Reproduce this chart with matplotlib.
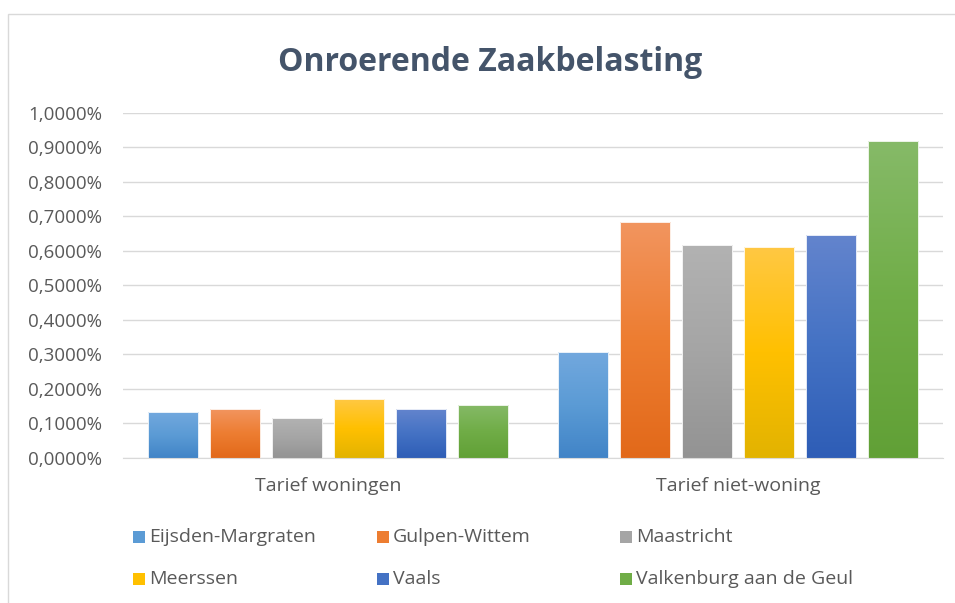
import numpy as np
import matplotlib
matplotlib.use("Agg")
import matplotlib.pyplot as plt
from matplotlib.colors import LinearSegmentedColormap
from matplotlib.patches import Rectangle

plt.rcParams['font.family'] = ['Open Sans', 'DejaVu Sans']

categories = ["Tarief woningen", "Tarief niet-woning"]
series = ["Eijsden-Margraten", "Gulpen-Wittem", "Maastricht",
          "Meerssen", "Vaals", "Valkenburg aan de Geul"]
eijsden = [0.132, 0.306]
gulpen = [0.142, 0.683]
maastricht = [0.115, 0.617]
meerssen = [0.170, 0.612]
vaals = [0.142, 0.645]
valkenburg = [0.154, 0.918]
values = [eijsden, gulpen, maastricht, meerssen, vaals, valkenburg]

# top / middle / bottom colours of each bar gradient
gradients = [
    ("#72a8de", "#5b9bd5", "#4184c7"),
    ("#f2955f", "#ed7d31", "#e2691a"),
    ("#b2b2b2", "#a5a5a5", "#939393"),
    ("#ffc843", "#ffc000", "#e2b300"),
    ("#6384cd", "#4472c4", "#2e5db6"),
    ("#86ba68", "#70ad47", "#61a036"),
]

text_col = "#595959"
grid_col = "#d9d9d9"

fig = plt.figure(figsize=(9.55, 6.03), dpi=100)
ax = fig.add_axes([0.1288, 0.241, 0.8586, 0.5716])

x = np.arange(len(categories))
slot = 0.1512
width = 0.122
grad = np.linspace(0, 1, 256).reshape(-1, 1)

for i, (name, vals) in enumerate(zip(series, values)):
    cmap = LinearSegmentedColormap.from_list(name, list(gradients[i]))
    bars = ax.bar(x + (i - 2.5) * slot, vals, width, facecolor="none",
                  edgecolor="#ffffff", linewidth=0.6, zorder=3, label=name)
    for b in bars:
        x0, y0 = b.get_x(), b.get_y()
        w, h = b.get_width(), b.get_height()
        im = ax.imshow(grad, cmap=cmap, aspect="auto", origin="upper",
                       extent=[x0, x0 + w, y0, y0 + h], zorder=2)
        im.set_clip_path(b)

ax.set_xlim(-0.5, 1.5)
ax.set_ylim(0, 1.0)
ticks = np.arange(0, 1.01, 0.1)
ax.set_yticks(ticks)
ax.set_yticklabels([f"{v:.4f}%".replace(".", ",") for v in ticks])
ax.set_xticks(x)
ax.set_xticklabels(categories)
ax.tick_params(axis="y", length=0, pad=15, labelsize=13.5, labelcolor=text_col)
ax.tick_params(axis="x", length=0, pad=14, labelsize=14, labelcolor=text_col)
ax.grid(axis="y", color=grid_col, linewidth=1, zorder=0)
ax.set_axisbelow(True)
for s in ["top", "right", "left"]:
    ax.spines[s].set_visible(False)
ax.spines["bottom"].set_color(grid_col)

fig.text(0.513, 0.897, "Onroerende Zaakbelasting", ha="center", va="center",
         fontsize=23, fontweight="bold", color="#44546a")

# legend, three columns and two rows
col_x = [133, 377, 620]
row_y = [537, 579]
for i, name in enumerate(series):
    px = col_x[i % 3]
    py = row_y[i // 3]
    fig.patches.append(Rectangle((px / 955, 1 - (py + 6) / 603), 12 / 955, 12 / 603,
                                 transform=fig.transFigure, facecolor=gradients[i][1],
                                 edgecolor="none"))
    fig.text((px + 16) / 955, 1 - py / 603, name, ha="left", va="center",
             fontsize=14, color=text_col)

# chart frame
fig.patches.append(Rectangle((8 / 955, -0.01), 1.0, 1 - 14 / 603 + 0.01,
                             transform=fig.transFigure, facecolor="none",
                             edgecolor=grid_col, linewidth=1))

fig.savefig("out.png", dpi=100)
